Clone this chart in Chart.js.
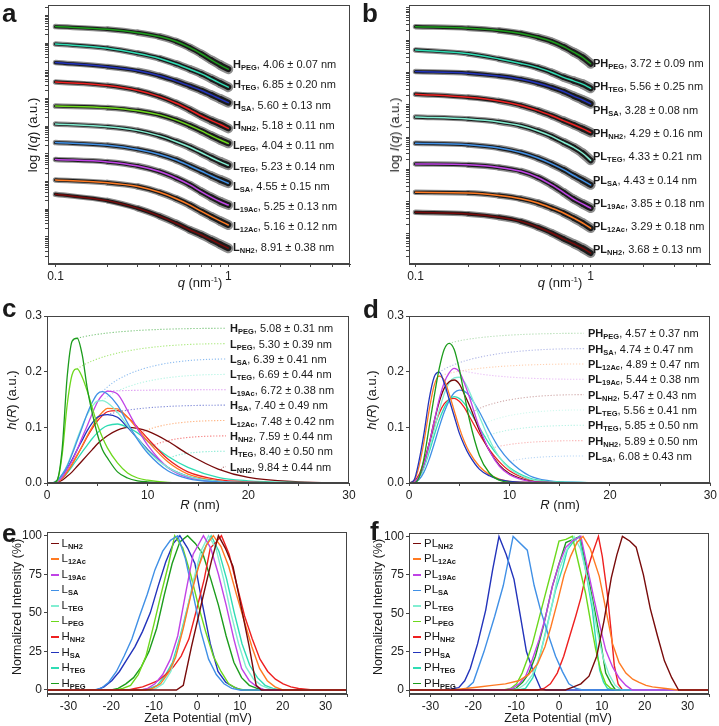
<!DOCTYPE html>
<html>
<head>
<meta charset="utf-8">
<title>SAXS, size distributions and zeta potential</title>
<script src="https://cdn.jsdelivr.net/npm/chart.js@4.4.1/dist/chart.umd.min.js"></script>
<style>
  html, body { margin: 0; background: #fff; }
  #fig { position: relative; width: 719px; height: 726px; overflow: hidden;
         font-family: "Liberation Sans", Arial, sans-serif; color: #1a1a1a; }
  #fig canvas { position: absolute; }
  .lab { position: absolute; white-space: nowrap; font-size: 11px; line-height: 12px; }
  sub { font-size: 7.5px; font-weight: bold; vertical-align: -2px; line-height: 0; }
  sup { font-size: 8px; vertical-align: 5px; line-height: 0; }
  .title { position: absolute; white-space: nowrap; font-size: 13px; line-height: 14px; }
  .rot { transform: translate(-50%, -50%) rotate(-90deg); }
  .hor { transform: translate(-50%, -50%); }
  .letter { position: absolute; font-weight: bold; font-size: 26px; line-height: 26px; }
  .leg { position: absolute; font-size: 11.5px; line-height: 12px; white-space: nowrap; }
  .sw { display: inline-block; width: 8px; height: 1.6px; vertical-align: middle; margin-right: 3px; }
</style>
</head>
<body>
<div id="fig"></div>
<script>
// ---------- a / b : SAXS profiles, log I(q) in decades (curves are offset)
const qPoints = [0.1, 0.2, 0.3, 0.4, 0.5, 0.6, 0.7, 0.8, 0.9, 1.0];
const qTicks = [0.1, 0.2, 0.3, 0.4, 0.5, 0.6, 0.7, 0.8, 0.9, 1, 2, 3, 4, 5];

const saxsA = [
  [8.58, 8.48, 8.36, 8.22, 8.04, 7.82, 7.59, 7.37, 7.19, 7.04],
  [7.95, 7.80, 7.61, 7.43, 7.23, 7.04, 6.87, 6.69, 6.53, 6.39],
  [7.28, 7.13, 6.98, 6.80, 6.61, 6.43, 6.27, 6.11, 5.96, 5.83],
  [6.58, 6.45, 6.27, 6.05, 5.81, 5.57, 5.35, 5.18, 5.04, 4.90],
  [5.71, 5.65, 5.54, 5.39, 5.20, 5.00, 4.81, 4.63, 4.48, 4.36],
  [5.06, 4.96, 4.82, 4.63, 4.42, 4.22, 4.02, 3.84, 3.69, 3.57],
  [4.39, 4.29, 4.14, 3.96, 3.76, 3.54, 3.35, 3.18, 3.04, 2.92],
  [3.78, 3.69, 3.54, 3.34, 3.10, 2.86, 2.61, 2.41, 2.25, 2.13],
  [3.04, 2.94, 2.80, 2.59, 2.36, 2.13, 1.90, 1.71, 1.55, 1.41],
  [2.52, 2.29, 2.01, 1.73, 1.47, 1.23, 1.05, 0.87, 0.71, 0.57]
];
const saxsANames = [['H', 'PEG'], ['H', 'TEG'], ['H', 'SA'], ['H', 'NH2'], ['L', 'PEG'],
                    ['L', 'TEG'], ['L', 'SA'], ['L', '19Ac'], ['L', '12Ac'], ['L', 'NH2']];
const saxsASizes = ['4.06 ± 0.07', '6.85 ± 0.20', '5.60 ± 0.13', '5.18 ± 0.11', '4.04 ± 0.11',
                    '5.23 ± 0.14', '4.55 ± 0.15', '5.25 ± 0.13', '5.16 ± 0.12', '8.91 ± 0.38'];

const saxsB = [
  [7.35, 7.30, 7.23, 7.14, 7.02, 6.89, 6.73, 6.56, 6.40, 6.20],
  [6.63, 6.51, 6.35, 6.21, 6.08, 5.93, 5.78, 5.67, 5.57, 5.44],
  [5.96, 5.91, 5.82, 5.72, 5.60, 5.47, 5.34, 5.20, 5.08, 4.96],
  [5.26, 5.16, 5.05, 4.91, 4.75, 4.59, 4.44, 4.31, 4.19, 4.07],
  [4.55, 4.49, 4.40, 4.28, 4.12, 3.95, 3.77, 3.61, 3.43, 3.21],
  [3.74, 3.69, 3.59, 3.45, 3.28, 3.10, 2.92, 2.74, 2.59, 2.45],
  [3.10, 3.07, 2.99, 2.87, 2.68, 2.45, 2.22, 2.01, 1.86, 1.73],
  [2.22, 2.20, 2.12, 2.02, 1.89, 1.73, 1.58, 1.42, 1.27, 1.11],
  [1.60, 1.55, 1.45, 1.32, 1.14, 0.96, 0.78, 0.63, 0.49, 0.34]
];
const saxsBNames = [['PH', 'PEG'], ['PH', 'TEG'], ['PH', 'SA'], ['PH', 'NH2'], ['PL', 'TEG'],
                    ['PL', 'SA'], ['PL', '19Ac'], ['PL', '12Ac'], ['PL', 'NH2']];
const saxsBSizes = ['3.72 ± 0.09', '5.56 ± 0.25', '3.28 ± 0.08', '4.29 ± 0.16', '4.33 ± 0.21',
                    '4.43 ± 0.14', '3.85 ± 0.18', '3.29 ± 0.18', '3.68 ± 0.13'];

// ---------- c / d : size distributions h(R)
const rGrid = [0, 0.5, 1, 1.5, 2, 2.5, 3, 3.5, 4, 4.5, 5, 5.5, 6, 7, 8, 9, 10, 12, 14, 17, 20, 25, 30];

const distC = [
  [0, 0, .005, .06, .19, .255, .26, .23, .17, .125, .088, .06, .045, .02, .009, .004, .002, 0, 0, 0, 0, 0, 0],
  [0, 0, .004, .05, .14, .195, .205, .19, .165, .135, .105, .082, .063, .036, .018, .009, .005, .001, 0, 0, 0, 0, 0],
  [0, 0, .004, .015, .03, .052, .076, .1, .125, .145, .16, .164, .16, .14, .108, .078, .054, .022, .008, .002, 0, 0, 0],
  [0, 0, .004, .015, .032, .055, .08, .103, .123, .138, .147, .148, .144, .127, .103, .08, .058, .028, .012, .003, .001, 0, 0],
  [0, 0, .002, .01, .025, .04, .06, .082, .103, .125, .145, .158, .165, .16, .13, .097, .068, .028, .01, .002, 0, 0, 0],
  [0, 0, .004, .014, .026, .042, .06, .077, .094, .108, .118, .122, .123, .118, .1, .08, .06, .028, .012, .003, .001, 0, 0],
  [0, 0, .002, .008, .02, .034, .05, .067, .085, .101, .116, .127, .134, .133, .118, .097, .075, .038, .016, .004, .001, 0, 0],
  [0, 0, .002, .008, .02, .034, .05, .066, .083, .098, .111, .121, .128, .13, .118, .1, .08, .043, .02, .006, .002, 0, 0],
  [0, 0, .002, .008, .018, .03, .043, .056, .068, .08, .09, .098, .103, .106, .1, .09, .075, .048, .028, .01, .004, .001, 0],
  [0, 0, .001, .005, .012, .02, .03, .04, .05, .06, .07, .078, .085, .095, .1, .098, .093, .075, .052, .025, .01, .002, 0]
];
const distCNames = [['H', 'PEG'], ['L', 'PEG'], ['L', 'SA'], ['L', 'TEG'], ['L', '19Ac'],
                    ['H', 'SA'], ['L', '12Ac'], ['H', 'NH2'], ['H', 'TEG'], ['L', 'NH2']];
const distCSizes = ['5.08 ± 0.31', '5.30 ± 0.39', '6.39 ± 0.41', '6.69 ± 0.44', '6.72 ± 0.38',
                    '7.40 ± 0.49', '7.48 ± 0.42', '7.59 ± 0.44', '8.40 ± 0.50', '9.84 ± 0.44'];

const distD = [
  [0, 0, .01, .045, .1, .155, .205, .24, .251, .24, .205, .16, .115, .05, .018, .005, .001, 0, 0, 0, 0, 0, 0],
  [0, .005, .04, .09, .15, .19, .199, .18, .15, .12, .09, .068, .05, .025, .013, .006, .003, .001, 0, 0, 0, 0, 0],
  [0, .004, .03, .075, .13, .175, .192, .185, .16, .13, .1, .075, .056, .03, .015, .007, .003, .001, 0, 0, 0, 0, 0],
  [0, .002, .012, .035, .07, .11, .15, .18, .198, .206, .2, .18, .155, .1, .058, .03, .015, .003, .001, 0, 0, 0, 0],
  [0, .002, .012, .035, .07, .11, .145, .17, .182, .185, .178, .16, .14, .095, .058, .032, .017, .004, .001, 0, 0, 0, 0],
  [0, .002, .01, .03, .06, .095, .13, .16, .18, .189, .19, .182, .165, .12, .078, .046, .026, .007, .002, 0, 0, 0, 0],
  [0, .002, .01, .028, .055, .085, .113, .135, .15, .155, .152, .143, .13, .1, .07, .046, .028, .009, .003, .001, 0, 0, 0],
  [0, .003, .015, .04, .07, .1, .125, .142, .15, .152, .147, .136, .12, .088, .06, .038, .022, .006, .002, 0, 0, 0, 0],
  [0, .001, .006, .02, .042, .07, .1, .127, .148, .162, .167, .165, .157, .128, .093, .062, .04, .013, .004, .001, 0, 0, 0]
];
const distDNames = [['PH', 'PEG'], ['PH', 'SA'], ['PL', '12Ac'], ['PL', '19Ac'], ['PL', 'NH2'],
                    ['PL', 'TEG'], ['PH', 'TEG'], ['PH', 'NH2'], ['PL', 'SA']];
const distDSizes = ['4.57 ± 0.37', '4.74 ± 0.47', '4.89 ± 0.47', '5.44 ± 0.38', '5.47 ± 0.43',
                    '5.56 ± 0.41', '5.85 ± 0.50', '5.89 ± 0.50', '6.08 ± 0.43'];

// ---------- e / f : zeta potential, [mV, normalized intensity %]
const zetaE = [
  [[-35, 0], [-4.8, 0], [-3.2, 3], [-1.3, 28], [1.2, 58], [3.4, 84], [5, 100], [6.6, 92], [8.4, 80], [10.3, 54], [12.2, 28], [13.8, 3], [15, 0], [35, 0]],
  [[-35, 0], [-12, 0], [-10.4, 1], [-8.5, 4], [-6.7, 11], [-5, 21], [-3.2, 40], [-1.4, 62], [0.4, 80], [2.2, 94], [3.8, 100], [5.6, 93], [7.4, 80], [9.2, 62], [11, 45], [12.8, 28], [14.6, 14], [16.4, 6], [18.2, 2], [20, 0], [35, 0]],
  [[-35, 0], [-13, 0], [-11.5, 1], [-9.8, 4], [-8, 10], [-6.2, 20], [-4.5, 35], [-2.7, 62], [-0.9, 88], [1.5, 100], [3.2, 92], [5, 75], [6.8, 55], [8.6, 33], [10.4, 14], [12.2, 6], [14, 2], [15.8, 0], [35, 0]],
  [[-35, 0], [-24, 0], [-22.4, 1], [-20.6, 5], [-18.8, 12], [-17, 22], [-15.2, 33], [-13.4, 48], [-11.6, 62], [-9.8, 78], [-8, 90], [-6.2, 97], [-4.5, 100], [-2.7, 85], [-0.9, 62], [0.9, 38], [2.7, 20], [4.5, 10], [6.3, 4], [8.1, 1], [10, 0], [35, 0]],
  [[-35, 0], [-11, 0], [-9.6, 1], [-7.9, 4], [-6.1, 12], [-4.4, 28], [-2.6, 48], [-0.9, 70], [0.9, 90], [2.7, 100], [4.4, 92], [6.2, 72], [7.9, 50], [9.7, 30], [11.4, 15], [13.2, 7], [15, 3], [16.7, 1], [18.5, 0], [35, 0]],
  [[-35, 0], [-19, 0], [-17.3, 1], [-15.5, 3], [-13.7, 10], [-11.9, 22], [-10.1, 42], [-8.4, 62], [-6.6, 82], [-5.2, 100], [-3.3, 92], [-1.5, 75], [0.3, 55], [2, 38], [3.8, 22], [5.6, 12], [7.4, 4], [9.2, 1], [11, 0], [35, 0]],
  [[-35, 0], [-16, 0], [-14.5, 1], [-12.7, 2], [-10.9, 4], [-9.1, 6], [-7.3, 10], [-5.5, 15], [-3.7, 22], [-1.9, 33], [-0.1, 52], [1.7, 72], [3.1, 92], [4.5, 96], [5.7, 100], [7.5, 88], [9.3, 68], [11.1, 48], [12.9, 33], [14.7, 20], [16.5, 12], [18.3, 7], [20.1, 4], [21.9, 2], [23.7, 1], [27, 0], [35, 0]],
  [[-35, 0], [-23.5, 0], [-21.7, 2], [-19.9, 6], [-18.1, 12], [-16.3, 20], [-14.5, 28], [-12.7, 38], [-10.9, 50], [-9.1, 67], [-7.3, 83], [-5.5, 95], [-4, 100], [-2.2, 92], [-0.5, 82], [1.3, 55], [3.1, 30], [4.9, 12], [6.7, 5], [8.5, 2], [10.3, 0], [35, 0]],
  [[-35, 0], [-13, 0], [-11, 1], [-9.3, 3], [-7.5, 9], [-5.7, 18], [-3.9, 35], [-2.1, 55], [-0.3, 75], [1.5, 90], [3.3, 100], [5.1, 90], [6.9, 72], [8.7, 50], [10.5, 30], [12.3, 16], [14.1, 8], [15.9, 3], [17.7, 1], [19.5, 0], [35, 0]],
  [[-35, 0], [-20, 0], [-18.4, 1], [-16.6, 4], [-14.8, 8], [-13, 15], [-11.2, 25], [-9.4, 40], [-7.6, 62], [-5.8, 82], [-4, 96], [-2.2, 100], [-0.4, 95], [1.4, 88], [3.2, 72], [5, 55], [6.8, 35], [8.6, 18], [10.4, 8], [12.2, 3], [14, 1], [15.8, 0], [35, 0]]
];
const zetaENames = [['L', 'NH2'], ['L', '12Ac'], ['L', '19Ac'], ['L', 'SA'], ['L', 'TEG'],
                    ['L', 'PEG'], ['H', 'NH2'], ['H', 'SA'], ['H', 'TEG'], ['H', 'PEG']];

const zetaF = [
  [[-35, 0], [1.5, 0], [3.4, 2], [5.1, 4], [7, 9], [8.8, 22], [10.5, 45], [12.2, 73], [13.5, 88], [14.8, 100], [16.5, 97], [18, 93], [19.7, 75], [21.3, 53], [23, 35], [24.6, 19], [26.3, 8], [27.9, 0], [35, 0]],
  [[-35, 0], [-25, 0], [-21.8, 1], [-18.7, 2], [-15.6, 3], [-12.5, 4], [-9.4, 6], [-7.1, 10], [-5, 17], [-3.3, 28], [-1.9, 41], [-0.3, 58], [1.2, 75], [2.7, 87], [4.2, 96], [5.6, 100], [7.3, 92], [9.4, 74], [11.1, 50], [12.5, 30], [14, 18], [15.6, 11], [17.2, 7], [18.7, 5], [20.3, 3], [21.8, 2], [24.9, 1], [27.7, 0], [35, 0]],
  [[-35, 0], [-12.5, 0], [-10.9, 1], [-9.3, 4], [-7.8, 9], [-6.2, 20], [-4.6, 33], [-3.1, 48], [-1.5, 68], [0, 82], [1.6, 93], [3.1, 97], [5.1, 100], [6.6, 80], [8.2, 59], [9.7, 40], [10.9, 26], [12.5, 15], [14, 8], [15.6, 3], [17.1, 0], [35, 0]],
  [[-35, 0], [-22, 0], [-20, 5], [-17.5, 25], [-15, 48], [-13, 68], [-10.7, 100], [-7.4, 91], [-5.8, 68], [-4.3, 52], [-2.5, 36], [-0.8, 22], [0.8, 12], [2.3, 4], [4, 1], [5.5, 0], [35, 0]],
  [[-35, 0], [-11, 0], [-9.4, 1], [-7.8, 4], [-6.2, 10], [-4.7, 20], [-3.1, 37], [-1.5, 57], [0, 78], [1.6, 90], [3.5, 100], [5, 92], [6.2, 78], [7.7, 58], [9, 37], [10.4, 20], [11.7, 10], [13.1, 3], [14.6, 0], [35, 0]],
  [[-35, 0], [-13, 0], [-11.3, 1], [-9.9, 4], [-8.6, 11], [-7.4, 20], [-6.2, 30], [-4.9, 44], [-3.5, 59], [-1.9, 76], [0, 97], [1.6, 98], [3.1, 100], [4.6, 82], [6.2, 63], [7.4, 44], [8.6, 26], [9.8, 12], [10.9, 4], [12.1, 1], [13.2, 0], [35, 0]],
  [[-35, 0], [-5, 0], [-3.5, 1], [-2, 4], [-0.4, 11], [1.1, 22], [2.6, 36], [3.9, 48], [5.1, 60], [6.2, 74], [7.7, 88], [9.2, 100], [10.1, 87], [11.3, 62], [12.1, 40], [12.9, 16], [13.8, 4], [14.8, 0], [35, 0]],
  [[-35, 0], [-27, 0], [-25.4, 0.5], [-23.4, 1.5], [-22, 6], [-20.7, 14], [-19, 30], [-17.1, 52], [-15.5, 78], [-14, 100], [-12.3, 88], [-10.5, 72], [-9, 48], [-7.6, 25], [-6, 12], [-4.3, 1], [-3, 0], [35, 0]],
  [[-35, 0], [-9.5, 0], [-7.8, 1], [-6.1, 8], [-4.3, 24], [-2.6, 44], [-0.8, 65], [0.9, 80], [1.9, 91], [3.2, 96], [4.7, 100], [6.2, 78], [7.8, 52], [8.6, 32], [9.5, 13], [10.4, 5], [11.3, 1], [12.5, 0], [35, 0]],
  [[-35, 0], [-11.5, 0], [-10.1, 1], [-8.5, 5], [-7, 11], [-5.5, 22], [-3.6, 42], [-1.6, 67], [0, 82], [1.6, 96], [3.3, 98], [4.9, 100], [6.5, 78], [8.6, 48], [9.8, 30], [10.9, 11], [12.2, 4], [13.2, 0], [35, 0]]
];
const zetaFNames = [['PL', 'NH2'], ['PL', '12Ac'], ['PL', '19Ac'], ['PL', 'SA'], ['PL', 'TEG'],
                    ['PL', 'PEG'], ['PH', 'NH2'], ['PH', 'SA'], ['PH', 'TEG'], ['PH', 'PEG']];

// ---------- colours
const C = {
  dgreen: '#1c9c1c', lgreen: '#6cd81c', aqua: '#82eed2', turq: '#2fdcb4', cblue: '#4090e6',
  dblue: '#2233bb', red: '#ee2020', maroon: '#780a0a', orange: '#ff7a22', violet: '#c043e6'
};
const colA = [C.dgreen, C.turq, C.dblue, C.red, C.lgreen, C.aqua, C.cblue, C.violet, C.orange, C.maroon];
const colB = [C.dgreen, C.turq, C.dblue, C.red, C.aqua, C.cblue, C.violet, C.orange, C.maroon];
const colC = [C.dgreen, C.lgreen, C.cblue, C.aqua, C.violet, C.dblue, C.orange, C.red, C.turq, C.maroon];
const colD = [C.dgreen, C.dblue, C.orange, C.violet, C.maroon, C.aqua, C.turq, C.red, C.cblue];
const colZ = [C.maroon, C.orange, C.violet, C.cblue, C.aqua, C.lgreen, C.red, C.dblue, C.turq, C.dgreen];

const axisColor = '#444';
Chart.defaults.font.family = '"Liberation Sans", Arial, sans-serif';
Chart.defaults.font.size = 12;
Chart.defaults.color = '#222';

const fig = document.getElementById('fig');

// frame round the plot area
const boxPlugin = {
  id: 'box',
  afterDraw(chart) {
    const { ctx, chartArea: a } = chart;
    ctx.save();
    ctx.strokeStyle = axisColor;
    ctx.lineWidth = 1;
    ctx.strokeRect(Math.round(a.left) + 0.5, Math.round(a.top) + 0.5,
                   Math.round(a.right - a.left) - 1, Math.round(a.bottom - a.top) - 1);
    ctx.restore();
  }
};

// dotted leader lines from each distribution to its label
const leaderPlugin = {
  id: 'leaders',
  beforeDatasetsDraw(chart, args, opts) {
    if (!opts.step) return;
    const { ctx, scales: { x, y } } = chart;
    ctx.save();
    ctx.setLineDash([1.2, 1.8]);
    ctx.lineWidth = 1.1;
    ctx.globalAlpha = opts.alpha;
    chart.data.datasets.forEach((ds, i) => {
      const pts = ds.data;
      const ey = opts.y0 + i * opts.step, ex = opts.endX;
      const rowVal = y.getValueForPixel(ey);
      let k = 0;
      pts.forEach((p, j) => { if (p.y > pts[k].y) k = j; });
      let sx = pts[k].x, sv = pts[k].y;
      if (rowVal < sv * 0.9) {
        const target = rowVal * 0.8;
        for (let j = k + 1; j < pts.length; j++) {
          if (pts[j].y <= target) {
            const p0 = pts[j - 1], p1 = pts[j];
            const f = (p0.y - target) / (p0.y - p1.y);
            sx = p0.x + f * (p1.x - p0.x);
            sv = target;
            break;
          }
        }
      }
      const px = x.getPixelForValue(sx), py = y.getPixelForValue(sv);
      ctx.strokeStyle = ds.borderColor;
      ctx.beginPath();
      ctx.moveTo(px, py);
      ctx.quadraticCurveTo(px + (ex - px) * 0.25, ey, ex, ey);
      ctx.stroke();
    });
    ctx.restore();
  }
};

function linAxis(min, max, tickVals, fmt, showLabels = true) {
  return {
    type: 'linear', min, max,
    afterBuildTicks: s => { s.ticks = tickVals.map(v => ({ value: v })); },
    ticks: { display: showLabels, callback: fmt, padding: 2, autoSkip: false, maxRotation: 0 },
    grid: { display: true, drawOnChartArea: false, tickLength: 3, tickColor: axisColor },
    border: { display: true, color: axisColor }
  };
}

function logAxis(min, max) {
  return {
    type: 'logarithmic', min, max,
    afterBuildTicks: s => { s.ticks = qTicks.filter(v => v >= min && v <= max).map(v => ({ value: v })); },
    ticks: { callback: v => (v === 0.1 ? '0.1' : v === 1 ? '1' : ''), padding: 2, autoSkip: false, maxRotation: 0 },
    grid: { display: true, drawOnChartArea: false, tickLength: 3, tickColor: axisColor },
    border: { display: true, color: axisColor }
  };
}

// tick marks of a log axis drawn on a linear "decades" scale
function decadeTicks(first, max) {
  const t = [];
  for (let m = first - 1; m <= max; m++) {
    for (let k = 1; k <= 9; k++) {
      const v = m + Math.log10(k);
      if (v >= 0 && v <= max) t.push(v);
    }
  }
  return t;
}

function makePanel(rect, box, cfg) {
  const [cx, cy, cw, ch] = rect;
  const cv = document.createElement('canvas');
  cv.width = cw; cv.height = ch;
  Object.assign(cv.style, { left: cx + 'px', top: cy + 'px', width: cw + 'px', height: ch + 'px' });
  fig.appendChild(cv);
  const o = cfg.options;
  o.responsive = false;
  o.animation = false;
  o.layout = { padding: { top: box[1] - cy, right: cx + cw - box[2], left: 0, bottom: 0 } };
  o.plugins = Object.assign({ legend: { display: false }, tooltip: { enabled: false } }, o.plugins || {});
  o.scales.x.afterFit = s => { s.height = cy + ch - box[3]; };
  o.scales.y.afterFit = s => { s.width = box[0] - cx; };
  cfg.plugins = [boxPlugin, leaderPlugin];
  return new Chart(cv, cfg);
}

function saxsDatasets(curves, colors) {
  const out = [];
  curves.forEach((vals, i) => {
    const data = qPoints.map((q, j) => ({ x: q, y: vals[j] }));
    const base = { data, pointRadius: 0, cubicInterpolationMode: 'monotone', borderCapStyle: 'round', fill: false };
    out.push(Object.assign({}, base, { borderColor: '#8e8e8e', order: 3,
      segment: { borderWidth: c => 5.5 + c.p0DataIndex * 0.55 } }));
    out.push(Object.assign({}, base, { borderColor: '#1b1b1b', order: 2,
      segment: { borderWidth: c => 3.2 + c.p0DataIndex * 0.35 } }));
    out.push(Object.assign({}, base, { borderColor: colors[i], borderWidth: 1.5, order: 1 }));
  });
  return out;
}

function distDatasets(curves, colors) {
  return curves.map((vals, i) => ({
    data: rGrid.map((r, j) => ({ x: r, y: vals[j] })),
    borderColor: colors[i], borderWidth: 1.3, pointRadius: 0,
    cubicInterpolationMode: 'monotone', fill: false
  }));
}

function zetaDatasets(curves, colors) {
  return curves.map((pts, i) => ({
    data: pts.map(p => ({ x: p[0], y: p[1] })),
    borderColor: colors[i], borderWidth: 1.4, pointRadius: 0, tension: 0, fill: false
  }));
}

const none = () => '';
const oneDec = v => v.toFixed(1);
const tens = v => (v % 10 === 0 ? String(v) : '');

// a
makePanel([0, 0, 360, 300], [48, 5, 350, 264], {
  type: 'line',
  data: { datasets: saxsDatasets(saxsA, colA) },
  options: { scales: { x: logAxis(0.0905, 5.06), y: linAxis(0, 9.36, decadeTicks(0.98, 9.36), none, false) } }
});
// b
makePanel([360, 0, 359, 300], [409, 5, 710, 264], {
  type: 'line',
  data: { datasets: saxsDatasets(saxsB, colB) },
  options: { scales: { x: logAxis(0.0918, 4.8), y: linAxis(0, 8.02, decadeTicks(0.93, 8.02), none, false) } }
});
// c
makePanel([0, 300, 360, 200], [47, 316, 349, 483], {
  type: 'line',
  data: { datasets: distDatasets(distC, colC) },
  options: {
    scales: { x: linAxis(0, 30, [0, 5, 10, 15, 20, 25, 30], tens), y: linAxis(0, 0.3, [0, 0.1, 0.2, 0.3], oneDec) },
    plugins: { leaders: { y0: 328.3 - 300, step: 15.37, endX: 226, alpha: 0.6 } }
  }
});
// d
makePanel([360, 300, 359, 200], [409, 316, 712, 483], {
  type: 'line',
  data: { datasets: distDatasets(distD, colD) },
  options: {
    scales: { x: linAxis(0, 30, [0, 5, 10, 15, 20, 25, 30], tens), y: linAxis(0, 0.3, [0, 0.1, 0.2, 0.3], oneDec) },
    plugins: { leaders: { y0: 333.3 - 300, step: 15.33, endX: 584 - 360, alpha: 0.35 } }
  }
});
// e
const zetaTicks = [-35, -30, -25, -20, -15, -10, -5, 0, 5, 10, 15, 20, 25, 30, 35];
const zetaFmt = v => (v % 10 === 0 && Math.abs(v) <= 30 ? String(v) : '');
makePanel([0, 500, 360, 226], [47, 532, 347, 694], {
  type: 'line',
  data: { datasets: zetaDatasets(zetaE, colZ) },
  options: { scales: { x: linAxis(-35, 35, zetaTicks, zetaFmt), y: linAxis(-2.6, 102.4, [0, 25, 50, 75, 100], v => String(v)) } }
});
// f
makePanel([360, 500, 359, 226], [409, 533, 709, 694], {
  type: 'line',
  data: { datasets: zetaDatasets(zetaF, colZ) },
  options: { scales: { x: linAxis(-35, 35, zetaTicks, zetaFmt), y: linAxis(-2.6, 102.2, [0, 25, 50, 75, 100], v => String(v)) } }
});

// ---------- text overlays
function add(cls, html, left, top, style) {
  const d = document.createElement('div');
  d.className = cls;
  d.innerHTML = html;
  d.style.left = left + 'px';
  d.style.top = top + 'px';
  if (style) Object.assign(d.style, style);
  fig.appendChild(d);
  return d;
}

function sizeLabels(names, sizes, left, y0, step) {
  names.forEach((n, i) => {
    add('lab', '<b>' + n[0] + '<sub>' + n[1] + '</sub></b>, ' + sizes[i] + ' nm', left, y0 + i * step - 6);
  });
}
sizeLabels(saxsANames, saxsASizes, 233, 64, 20.3);
sizeLabels(saxsBNames, saxsBSizes, 593, 63, 23.3);
sizeLabels(distCNames, distCSizes, 230, 328.3, 15.37);
sizeLabels(distDNames, distDSizes, 588, 333.3, 15.33);

function legend(names, left, y0, step) {
  names.forEach((n, i) => {
    add('leg', '<span class="sw" style="background:' + colZ[i] + '"></span>' + n[0] + '<sub>' + n[1] + '</sub>',
        left, y0 + i * step - 6);
  });
}
legend(zetaENames, 50.5, 542.7, 15.55);
legend(zetaFNames, 413, 542.7, 15.55);

// axis titles
add('title rot', 'log <i>I</i>(<i>q</i>) (a.u.)', 33, 135);
add('title hor', '<i>q</i> (nm<sup>-1</sup>)', 200, 283);
add('title rot', 'log <i>I</i>(<i>q</i>) (a.u.)', 395, 135);
add('title hor', '<i>q</i> (nm<sup>-1</sup>)', 560, 283);
add('title rot', '<i>h</i>(<i>R</i>) (a.u.)', 12, 400);
add('title hor', '<i>R</i> (nm)', 200, 505);
add('title rot', '<i>h</i>(<i>R</i>) (a.u.)', 372, 400);
add('title hor', '<i>R</i> (nm)', 560, 505);
add('title rot', 'Normalized Intensity (%)', 17, 607, { fontSize: '12.5px' });
add('title hor', 'Zeta Potential (mV)', 198, 718, { fontSize: '12.5px' });
add('title rot', 'Normalized Intensity (%)', 378, 607, { fontSize: '12.5px' });
add('title hor', 'Zeta Potential (mV)', 558, 718, { fontSize: '12.5px' });

// panel letters
[['a', 2, 0], ['b', 362, 0], ['c', 2, 295], ['d', 363, 296], ['e', 2, 520], ['f', 370, 518]]
  .forEach(([t, l, top]) => add('letter', t, l, top));
</script>
</body>
</html>
